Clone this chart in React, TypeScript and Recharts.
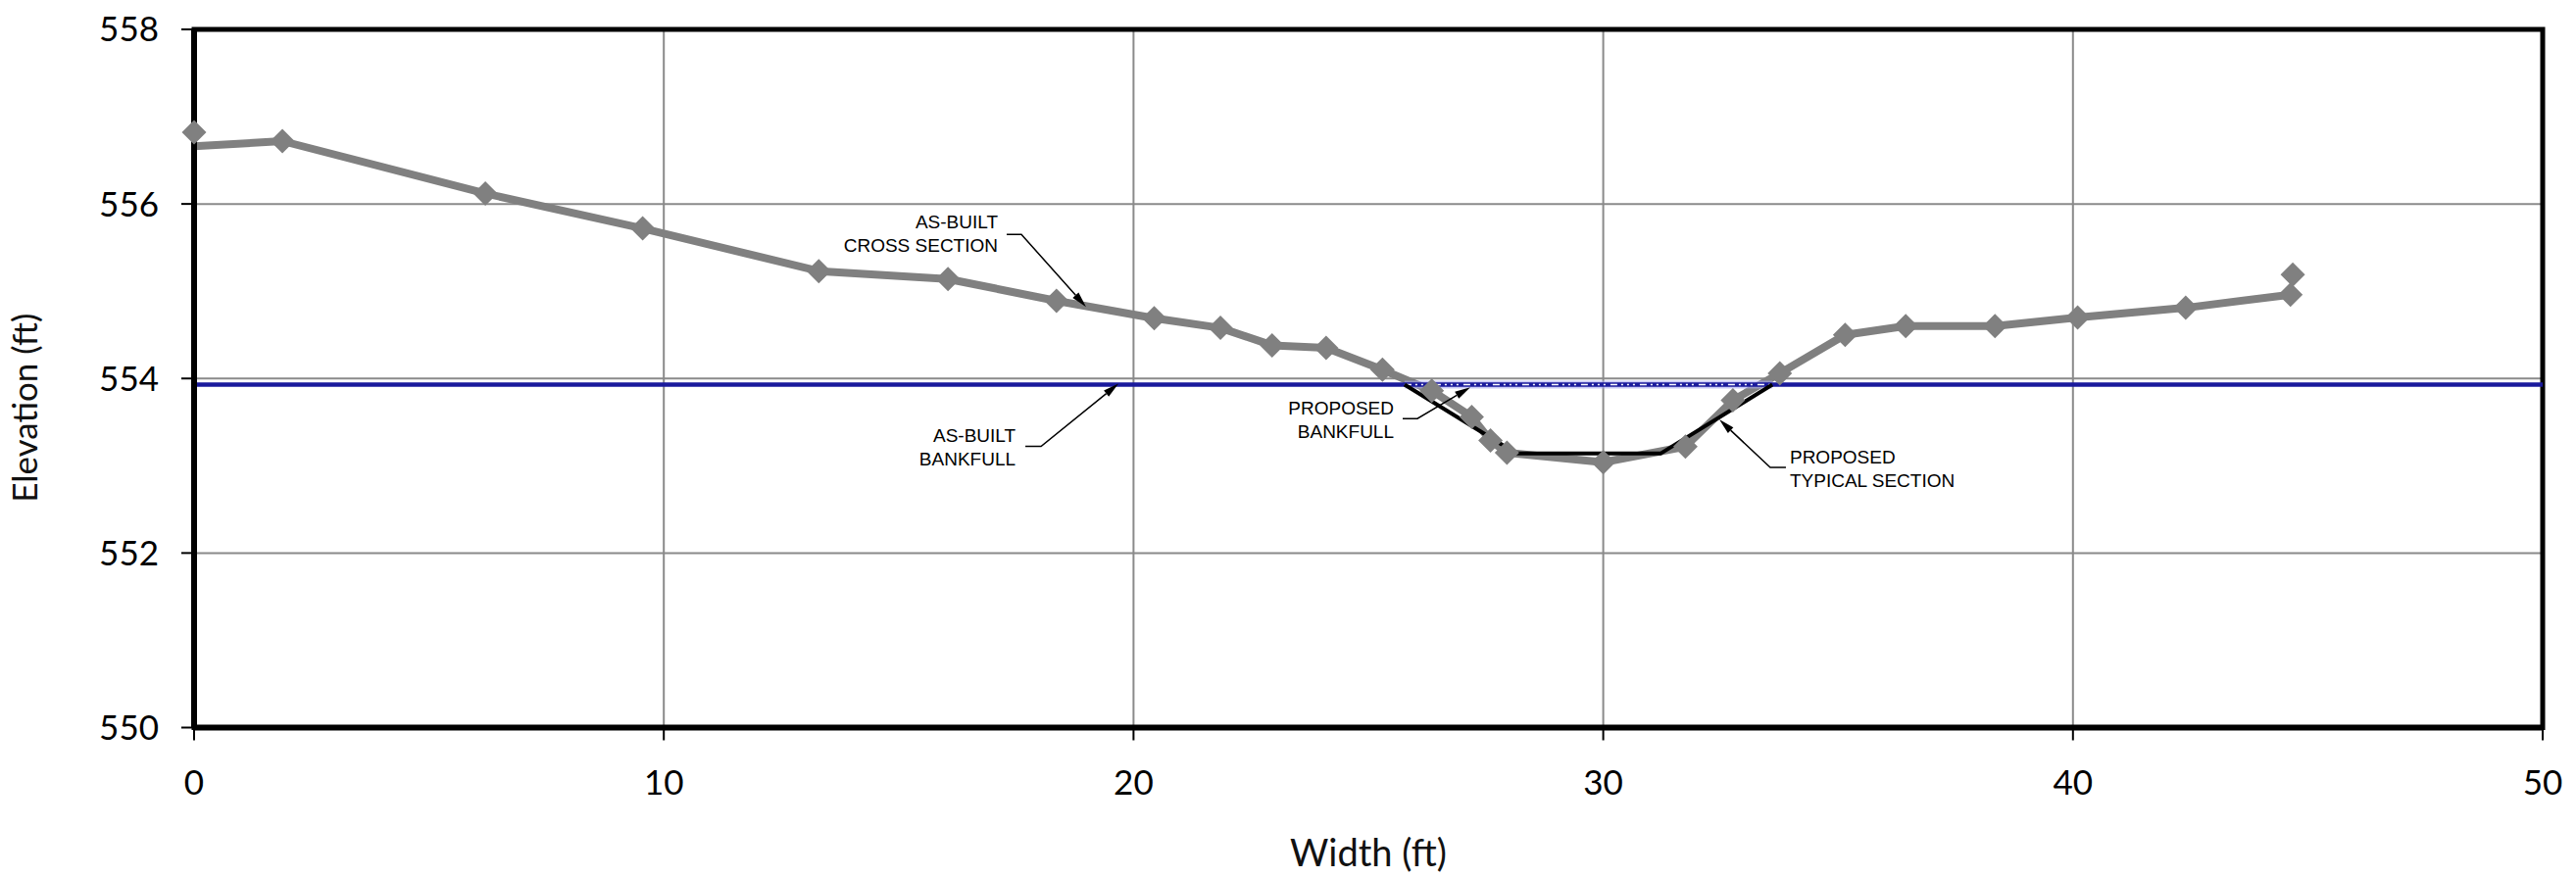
import { ComposedChart, Line, Scatter, XAxis, YAxis, CartesianGrid, ReferenceArea } from "recharts";

// as-built cross section survey (width ft / elevation ft)
const crossX = [0, 1.88, 6.2, 9.55, 13.3, 16.05, 18.36, 20.44, 21.85, 22.95, 24.1, 25.3, 26.35, 27.2, 27.6, 27.95, 30.0, 31.75, 32.76, 33.76, 35.15, 36.44, 38.34, 40.1, 42.4, 44.63];
const crossY = [556.66, 556.72, 556.12, 555.72, 555.23, 555.14, 554.89, 554.69, 554.58, 554.38, 554.35, 554.1, 553.86, 553.56, 553.29, 553.15, 553.04, 553.22, 553.75, 554.06, 554.5, 554.6, 554.6, 554.7, 554.81, 554.96];

// pin tops at each end
const pinX = [0, 44.68];
const pinY = [556.82, 555.19];

// proposed typical section
const typicalX = [25.77, 28.15, 31.22, 33.6];
const typicalY = [553.93, 553.14, 553.14, 553.93];

// bankfull elevations
const asBuiltBankfullX = [0, 50];
const asBuiltBankfullY = [553.93, 553.93];
const proposedBankfullX = [25.77, 33.6];
const proposedBankfullY = [553.93, 553.93];

const xTicks = [0, 10, 20, 30, 40, 50];
const yTicks = [550, 552, 554, 556, 558];

// callout arrow tips
const calloutX = [18.99, 19.68, 27.17, 32.47];
const calloutY = [554.82, 553.94, 553.9, 553.53];
const calloutText = [
  ["AS-BUILT", "CROSS SECTION"],
  ["AS-BUILT", "BANKFULL"],
  ["PROPOSED", "BANKFULL"],
  ["PROPOSED", "TYPICAL SECTION"],
];

const zip = (xs: number[], ys: number[]) => xs.map((x, i) => ({ x, y: ys[i] }));

const crossSection = zip(crossX, crossY);
const pins = zip(pinX, pinY);
const typical = zip(typicalX, typicalY);
const asBuiltBankfull = zip(asBuiltBankfullX, asBuiltBankfullY);
const proposedBankfull = zip(proposedBankfullX, proposedBankfullY);
const callouts = calloutX.map((x, i) => ({ x, y: calloutY[i], idx: i }));

// leader offsets in px from the arrow tip
const leaderLayout = [
  { elbow: [-66, -74], end: [-81, -74], text: [-90, -80], anchor: "end" },
  { elbow: [-79, 64], end: [-95, 64], text: [-105, 59], anchor: "end" },
  { elbow: [-54, 32], end: [-69, 32], text: [-78, 28], anchor: "end" },
  { elbow: [52, 49], end: [68, 49], text: [72, 45], anchor: "start" },
];

const GRAY = "#808080";
const BLUE = "#1a1a9c";
const W = 2628;
const H = 895;

const diamond = (cx: number, cy: number, r: number) => `M${cx},${cy - r}L${cx + r},${cy}L${cx},${cy + r}L${cx - r},${cy}Z`;

const CrossDot = (props: any) => {
  const { cx, cy, index } = props;
  if (index === 0 || cx == null) return <g key={`cd-${index}`} />;
  return <path key={`cd-${index}`} d={diamond(cx, cy, 12.5)} fill={GRAY} />;
};

const PinShape = (props: any) => <path d={diamond(props.cx, props.cy, 12.5)} fill={GRAY} />;

const Callout = (props: any) => {
  const { cx, cy, payload } = props;
  const lay = leaderLayout[payload.idx];
  const ex = cx + lay.elbow[0], ey = cy + lay.elbow[1];
  const dx = cx - ex, dy = cy - ey;
  const len = Math.sqrt(dx * dx + dy * dy);
  const ux = dx / len, uy = dy / len;
  const L = 16, w = 4;
  const bx = cx - ux * L, by = cy - uy * L;
  const head = `M${cx},${cy}L${bx - uy * w},${by + ux * w}L${bx + uy * w},${by - ux * w}Z`;
  return (
    <g>
      <polyline points={`${cx + lay.end[0]},${cy + lay.end[1]} ${ex},${ey} ${bx},${by}`} fill="none" stroke="#000" strokeWidth={1.5} />
      <path d={head} fill="#000" />
      <text x={cx + lay.text[0]} y={cy + lay.text[1]} textAnchor={lay.anchor} fontFamily="'Liberation Sans Narrow', 'Liberation Sans', Arial, sans-serif" fontSize={19} fill="#000">
        {calloutText[payload.idx].map((t, i) => (
          <tspan key={i} x={cx + lay.text[0]} dy={i === 0 ? 0 : 24}>{t}</tspan>
        ))}
      </text>
    </g>
  );
};

const tickStyle = { fontFamily: "Lato, 'Noto Sans', sans-serif", fontSize: 35, fill: "#000" };

export default function App() {
  return (
    <div style={{ position: "absolute", left: 0, top: 0, width: W, height: H, background: "#fff" }}>
      <ComposedChart width={W} height={H} margin={{ top: 30, right: 34, left: 0, bottom: 22.5 }}>
        <CartesianGrid stroke="#8a8a8a" strokeWidth={2} />
        <XAxis
          type="number"
          dataKey="x"
          domain={[0, 50]}
          ticks={xTicks}
          height={130}
          tick={tickStyle}
          tickSize={13}
          tickMargin={31}
          tickLine={{ stroke: "#000", strokeWidth: 2 }}
          axisLine={{ stroke: "#000", strokeWidth: 6 }}
          label={{
            content: ({ viewBox }: any) => (
              <text x={viewBox.x + viewBox.width / 2} y={viewBox.y + 141} textAnchor="middle" fontFamily="Lato, sans-serif" fontSize={38} fill="#111">
                Width (ft)
              </text>
            ),
          }}
        />
        <YAxis
          type="number"
          dataKey="y"
          domain={[550, 558]}
          ticks={yTicks}
          width={198}
          tick={tickStyle}
          tickSize={13}
          tickMargin={23}
          tickLine={{ stroke: "#000", strokeWidth: 2 }}
          axisLine={{ stroke: "#000", strokeWidth: 6 }}
          label={{
            content: ({ viewBox }: any) => {
              const x = 38;
              const y = viewBox.y + viewBox.height / 2 + 30;
              return (
                <text x={x} y={y} transform={`rotate(-90 ${x} ${y})`} textAnchor="middle" fontFamily="Lato, sans-serif" fontSize={35} fill="#111">
                  Elevation (ft)
                </text>
              );
            },
          }}
        />
        <Line data={crossSection} dataKey="y" stroke={GRAY} strokeWidth={8} strokeLinejoin="round" dot={CrossDot} activeDot={false} isAnimationActive={false} />
        <Scatter data={pins} dataKey="y" shape={PinShape} isAnimationActive={false} />
        <Line data={proposedBankfull} dataKey="y" stroke="#a8a8f0" strokeOpacity={0.6} strokeWidth={8} dot={false} activeDot={false} isAnimationActive={false} />
        <Line data={asBuiltBankfull} dataKey="y" stroke={BLUE} strokeWidth={4.5} dot={false} activeDot={false} isAnimationActive={false} />
        <Line data={proposedBankfull} dataKey="y" stroke="#ffffff" strokeWidth={1.5} strokeDasharray="7 4 2 4 2 4 2 5" dot={false} activeDot={false} isAnimationActive={false} />
        <Line data={typical} dataKey="y" stroke="#000" strokeWidth={4} strokeLinejoin="miter" dot={false} activeDot={false} isAnimationActive={false} />
        <Scatter data={callouts} dataKey="y" shape={Callout} isAnimationActive={false} />
        <ReferenceArea x1={0} x2={50} y1={550} y2={558} fill="none" stroke="#000" strokeWidth={5} ifOverflow="visible" />
      </ComposedChart>
    </div>
  );
}
